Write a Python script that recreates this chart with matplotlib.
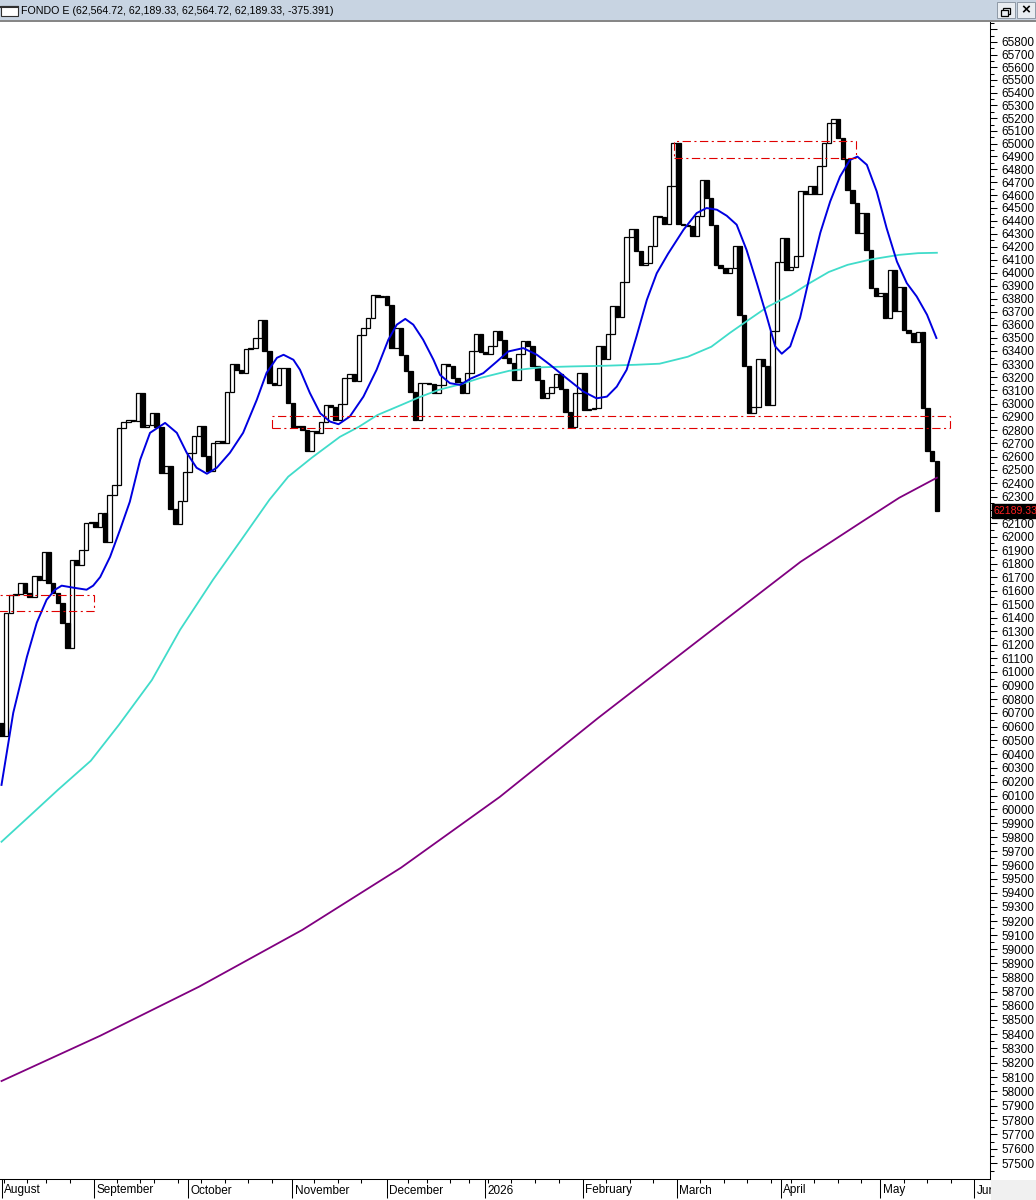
import numpy as np
import matplotlib
matplotlib.use('Agg')
import matplotlib.pyplot as plt
from matplotlib.patches import Rectangle
from matplotlib.lines import Line2D
from matplotlib.transforms import blended_transform_factory
from matplotlib.ticker import FixedLocator, NullFormatter

plt.rcParams['font.family'] = ['Liberation Sans', 'DejaVu Sans']
plt.rcParams['lines.scale_dashes'] = False

title = 'FONDO E (62,564.72, 62,189.33, 62,564.72, 62,189.33, -375.391)'

# daily closes, each candle opens at the previous close
first_open = 60628
closes = [
    60529, 61433, 61569, 61575, 61655, 61581, 61552, 61704, 61680, 61889,
    61655, 61581, 61507, 61359, 61175, 61828, 61791, 61902, 62101, 62113,
    62075, 62176, 61963, 62313, 62388, 62817, 62862, 62877, 62872, 63083,
    62826, 62839, 62927, 62826, 62476, 62531, 62206, 62095, 62268, 62481,
    62627, 62757, 62832, 62606, 62488, 62706, 62714, 62702, 63091, 63303,
    63257, 63231, 63415, 63422, 63499, 63639, 63397, 63160, 63142, 63274,
    63270, 63002, 62822, 62834, 62802, 62644, 62796, 62777, 62864, 62990,
    62977, 62877, 62997, 63193, 63226, 63175, 63524, 63575, 63652, 63830,
    63812, 63822, 63753, 63422, 63575, 63371, 63244, 63091, 62877, 63155,
    63160, 63150, 63079, 63142, 63303, 63287, 63193, 63167, 63079, 63231,
    63397, 63532, 63389, 63379, 63435, 63549, 63486, 63346, 63308, 63180,
    63379, 63473, 63435, 63282, 63180, 63040, 63079, 63129, 63224, 63109,
    62939, 62826, 63079, 63236, 62952, 62957, 62965, 63440, 63338, 63532,
    63746, 63659, 63931, 64274, 64336, 64170, 64060, 64073, 64202, 64439,
    64429, 64377, 64667, 65003, 64377, 64370, 64357, 64279, 64439, 64718,
    64577, 64370, 64060, 64034, 63995, 64034, 64207, 63677, 63282, 62927,
    62977, 63338, 63282, 62990, 63549, 64085, 64267, 64021, 64047, 64129,
    64633, 64610, 64667, 64608, 64822, 65003, 65161, 65194, 65047, 64881,
    64641, 64538, 64305, 64460, 64176, 63881, 63817, 63843, 63652, 64021,
    63702, 63893, 63562, 63537, 63468, 63545, 62965, 62639, 62564.72, 62189.33,
]

# moving averages (bar index, value)
blue_idx = [0, 2.5, 5.4, 7.5, 9.6, 11.4, 12.8, 15.3, 18.1, 19.5, 21.0, 23.1, 25.2, 27.3, 29.5,
            31.6, 34.8, 37.3, 39.4, 41.5, 43.7, 45.8, 48.6, 51.4, 54.3, 56.4, 58.6, 60.0, 62.1,
            63.5, 65.6, 67.8, 69.9, 71.7, 74.1, 77.0, 79.8, 82.3, 84.1, 85.9, 87.6, 89.7, 91.9,
            93.3, 95.4, 97.6, 99.7, 102.5, 105.4, 107.8, 111.0, 113.9, 116.7, 120.2, 123.8, 126.6,
            128.8, 130.9, 133.0, 135.1, 137.3, 139.4, 141.8, 145.1, 147.9, 150.0, 152.2, 154.3,
            156.4, 158.5, 160.7, 162.8, 164.6, 166.0, 167.8, 169.9, 172.0, 174.2, 176.3, 178.4,
            180.5, 182.1, 184.1, 186.2, 188.3, 190.5, 192.6, 194.7, 196.9, 198.9]
blue_val = [60177, 60701, 61110, 61362, 61532, 61606, 61636, 61621, 61606, 61636, 61700, 61850,
            62050, 62261, 62576, 62779, 62854, 62779, 62629, 62516, 62471, 62516, 62629, 62779,
            63028, 63234, 63348, 63371, 63333, 63257, 63081, 62927, 62864, 62844, 62902, 63053,
            63257, 63486, 63601, 63645, 63601, 63486, 63333, 63218, 63155, 63142, 63188, 63231,
            63320, 63396, 63422, 63371, 63295, 63193, 63091, 63040, 63053, 63129, 63257, 63511,
            63791, 63995, 64145, 64331, 64460, 64499, 64486, 64439, 64370, 64176, 63919, 63664,
            63435, 63379, 63435, 63654, 63983, 64308, 64550, 64744, 64873, 64899, 64835, 64628,
            64344, 64085, 63919, 63817, 63677, 63499]

cyan_idx = [0, 6, 12, 19, 25, 32, 38, 45, 51, 57, 61, 66, 72, 76, 80, 85, 89, 93, 98, 102, 108,
            115, 121, 128, 135, 140, 146, 151, 155, 159, 163, 168, 172, 176, 180, 185, 191, 195, 199]
cyan_val = [59767, 59953, 60141, 60352, 60614, 60941, 61310, 61680, 61976, 62276, 62449, 62591,
            62749, 62824, 62914, 62989, 63050, 63104, 63150, 63196, 63249, 63276, 63282, 63287,
            63295, 63303, 63356, 63432, 63539, 63639, 63738, 63830, 63921, 64005, 64060, 64102,
            64137, 64150, 64153]

purple_idx = [0, 21, 42, 64, 85, 106, 127, 149, 170, 183, 191, 199]
purple_val = [58072, 58389, 58734, 59137, 59581, 60090, 60665, 61251, 61813, 62110, 62291, 62441]

# support / resistance boxes: (start bar, end bar, low, high)
zones = [(-5, 19.6, 61445, 61569),
         (57.6, 201.8, 62819, 62905),
         (143.1, 181.8, 64891, 65021)]

month_labels = ['August', 'September', 'October', 'November', 'December', '2026',
                'February', 'March', 'April', 'May', 'June']
month_pos = [0, 19.7, 39.7, 61.9, 82.0, 102.9, 123.7, 143.7, 165.9, 187.0, 207.0]
week_pos = [0.5, 5.5, 9.5, 14.5, 24.5, 29.5, 32.5, 37.5, 42.5, 47.5, 52.5, 57.5, 66.5, 71.5,
            76.5, 86.5, 90.5, 95.5, 99.5, 103.5, 108.5, 113.5, 118.5, 128.7, 133.7, 138.7,
            148.7, 153.7, 158.7, 163.7, 167.9, 172.9, 177.9, 182.9, 192.0, 197.0, 201.9]

W, H = 1036, 1200
fig = plt.figure(figsize=(W / 100, H / 100), dpi=100)
ax = fig.add_axes([0, 1 - 1179 / H, 990 / W, (1179 - 22) / H])

closes = np.array(closes, dtype=float)
opens = np.concatenate([[first_open], closes[:-1]])
x = np.arange(len(closes))
lo = np.minimum(opens, closes)
hi = np.maximum(opens, closes)
up = closes >= opens

ax.bar(x[up], hi[up] - lo[up], bottom=lo[up], width=0.95, color='white',
       edgecolor='black', linewidth=0.9, zorder=2)
ax.bar(x[~up], hi[~up] - lo[~up], bottom=lo[~up], width=0.95, color='black',
       edgecolor='black', linewidth=0.9, zorder=2)

ax.plot(purple_idx, purple_val, color='#800080', lw=1.3, zorder=3)
ax.plot(cyan_idx, cyan_val, color='#40dcca', lw=1.3, zorder=3)
ax.plot(blue_idx, blue_val, color='#0000e0', lw=1.4, zorder=3)

for x0, x1, y0, y1 in zones:
    ax.add_patch(Rectangle((x0, y0), x1 - x0, y1 - y0, fill=False, edgecolor='#e00000',
                           lw=0.8, linestyle=(0, (6, 2.5, 1.5, 2.5)), zorder=4))

ax.set_yscale('log')
ax.set_xlim(-0.32, 210.3)
ax.set_ylim(57392, 65958)

# price axis on the right; 62200 sits under the last-price tag
majors = list(range(57500, 66000, 100))
ax.yaxis.tick_right()
ax.yaxis.set_major_locator(FixedLocator(majors))
ax.set_yticklabels([str(v) if v <= 65800 and v != 62200 else '' for v in majors])
ax.yaxis.set_minor_locator(FixedLocator(list(range(57450, 65951, 100))))
ax.yaxis.set_minor_formatter(NullFormatter())
ax.tick_params(axis='y', which='major', direction='out', length=5, width=0.75, pad=3, labelsize=8.5)
ax.tick_params(axis='y', which='minor', direction='out', length=3, width=0.75)

# date axis
ax.set_xticks(month_pos)
ax.set_xticklabels([])
ax.set_xticks(week_pos, minor=True)
ax.tick_params(axis='x', which='major', direction='out', length=13.5, width=0.75)
ax.tick_params(axis='x', which='minor', direction='out', length=3, width=0.75)
tr = blended_transform_factory(ax.transData, ax.transAxes)
for pos, lab in zip(month_pos, month_labels):
    ax.text(pos + 0.45, -11.5 / (1179 - 22), lab, transform=tr, ha='left', va='center',
            fontsize=8.5, clip_on=False)

for side in ['left', 'top']:
    ax.spines[side].set_visible(False)
for side in ['right', 'bottom']:
    ax.spines[side].set_linewidth(0.75)

# last price tag
tr2 = blended_transform_factory(ax.transAxes, ax.transData)
ax.text(994 / 990, closes[-1], '%.2f' % closes[-1], transform=tr2, ha='left', va='center',
        fontsize=7.6, color='#ff2020', clip_on=False, zorder=10,
        bbox=dict(boxstyle='square,pad=0.18', fc='black', ec='black'))

# window title bar
fig.add_artist(Rectangle((0, 1 - 20 / H), 1, 20 / H, transform=fig.transFigure,
                         fc='#c8d4e2', ec='none'))
fig.add_artist(Line2D([0, 1], [1 - 20.5 / H] * 2, transform=fig.transFigure,
                      color='#707070', lw=1.2))
fig.add_artist(Rectangle((1 / W, 1 - 16 / H), 17 / W, 10 / H, transform=fig.transFigure,
                         fc='white', ec='#303030', lw=0.8))
fig.add_artist(Line2D([1 / W, 18 / W], [1 - 6.5 / H] * 2, transform=fig.transFigure,
                      color='#303030', lw=1.5))
fig.text(21 / W, 1 - 10.5 / H, title, ha='left', va='center', fontsize=7.7)
for bx in [997, 1017]:
    fig.add_artist(Rectangle((bx / W, 1 - 18 / H), 18 / W, 16 / H, transform=fig.transFigure,
                             fc='#e9edf2', ec='#8e99a6', lw=0.7))
fig.add_artist(Rectangle((1003 / W, 1 - 14 / H), 7 / W, 6 / H, transform=fig.transFigure,
                         fc='none', ec='black', lw=0.9))
fig.add_artist(Rectangle((1001 / W, 1 - 16 / H), 7 / W, 6 / H, transform=fig.transFigure,
                         fc='#e9edf2', ec='black', lw=0.9))
fig.text(1026 / W, 1 - 10.5 / H, '\u00d7', ha='center', va='center', fontsize=11,
         fontweight='bold')

# grey corner under the price axis
fig.add_artist(Rectangle((991 / W, 0), 45 / W, 20 / H, transform=fig.transFigure,
                         fc='#f0f0f0', ec='none'))

fig.savefig('out.png', dpi=100)
